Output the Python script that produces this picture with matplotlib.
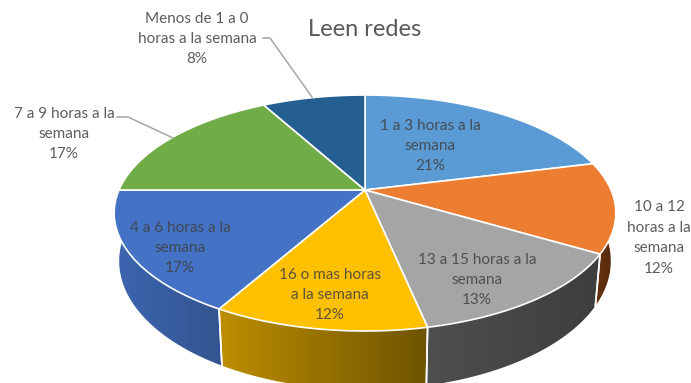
import numpy as np
import matplotlib
matplotlib.use("Agg")
import matplotlib.pyplot as plt
from matplotlib.patches import Polygon

categories = ["1 a 3 horas a la\nsemana", "10 a 12\nhoras a la\nsemana", "13 a 15 horas a la\nsemana",
              "16 o mas horas\na la semana", "4 a 6 horas a la\nsemana", "7 a 9 horas a la\nsemana",
              "Menos de 1 a 0\nhoras a la semana"]
values = [21.1, 12.4, 13.2, 11.5, 16.8, 17.0, 8.0]
top_colors = ["#5B9BD5", "#ED7D31", "#A5A5A5", "#FFC000", "#4472C4", "#70AD47", "#255E91"]
side_left = ["#5B9BD5", "#6a3510", "#4f4f4f", "#bd8e00", "#3c66b0", "#70AD47", "#255E91"]
side_right = ["#5B9BD5", "#55290c", "#3e3e3e", "#6e5400", "#33548f", "#70AD47", "#255E91"]
label_xy = [(430, 146), (659, 238), (477, 280), (330, 295), (180, 248), (64, 134), (197, 39)]
title = "Leen redes"

W, H = 691, 383
fig = plt.figure(figsize=(W / 100, H / 100), dpi=100)
ax = fig.add_axes([0, 0, 1, 1])
ax.set_xlim(0, W)
ax.set_ylim(H, 0)
ax.axis("off")
plt.rcParams["font.family"] = "Lato"

CX, CY, A, B, K = 365, 190, 246, 113.5, 0.195


def project(theta, sx=1.0, sy=1.0, dy=0.0):
    x, y = np.sin(theta), np.cos(theta)
    d = 1 + K * y
    return CX + sx * A * x / d, CY + dy - sy * B * y / d


edges = 2 * np.pi * np.concatenate([[0], np.cumsum(values)]) / sum(values)
SX, SY, DY = 0.98, 1.09, 46

# side walls: only the front-facing slices show one
for i in [1, 4, 2, 3]:
    t = np.linspace(edges[i], edges[i + 1], 120)
    tx, ty = project(t)
    bx, by = project(t, SX, SY, DY)
    xs = np.r_[tx, bx[::-1]]
    ys = np.r_[ty, by[::-1]]
    grad = np.linspace(0, 1, 256)[None, :, None]
    c0 = np.array(matplotlib.colors.to_rgb(side_left[i]))[None, None, :]
    c1 = np.array(matplotlib.colors.to_rgb(side_right[i]))[None, None, :]
    im = ax.imshow(c0 * (1 - grad) + c1 * grad, aspect="auto", zorder=2 + i * 0.01,
                   extent=[xs.min(), xs.max(), ys.max(), ys.min()])
    poly = Polygon(np.c_[xs, ys], closed=True, fc="none", ec="none", transform=ax.transData)
    ax.add_patch(poly)
    im.set_clip_path(poly)
    ax.plot([tx[-1], bx[-1]], [ty[-1], by[-1]], color="white", lw=1.2, zorder=2.5)
    ax.plot([tx[0], bx[0]], [ty[0], by[0]], color="white", lw=1.2, zorder=2.5)
ax.set_xlim(0, W)
ax.set_ylim(H, 0)

# top faces
for i, v in enumerate(values):
    t = np.linspace(edges[i], edges[i + 1], 120)
    tx, ty = project(t)
    ax.add_patch(Polygon(np.c_[np.r_[CX, tx], np.r_[CY, ty]], closed=True, fc=top_colors[i],
                         ec="white", lw=1.2, zorder=3, joinstyle="round"))

# labels
for i, (c, v) in enumerate(zip(categories, values)):
    lx, ly = label_xy[i]
    ax.text(lx, ly, f"{c}\n{v:.0f}%", ha="center", va="center", fontsize=11, color="#404040",
            alpha=0.85, linespacing=1.58, zorder=5)

ax.text(365, 30, title, ha="center", va="center", fontsize=17, color="#595959", zorder=5)

# leader lines
ax.plot([263, 270, 312], [38, 38, 97], color="#a6a6a6", lw=1.1, zorder=4)
ax.plot([117, 128, 173], [117, 117, 138], color="#a6a6a6", lw=1.1, zorder=4)

fig.savefig("out.png", dpi=100)
